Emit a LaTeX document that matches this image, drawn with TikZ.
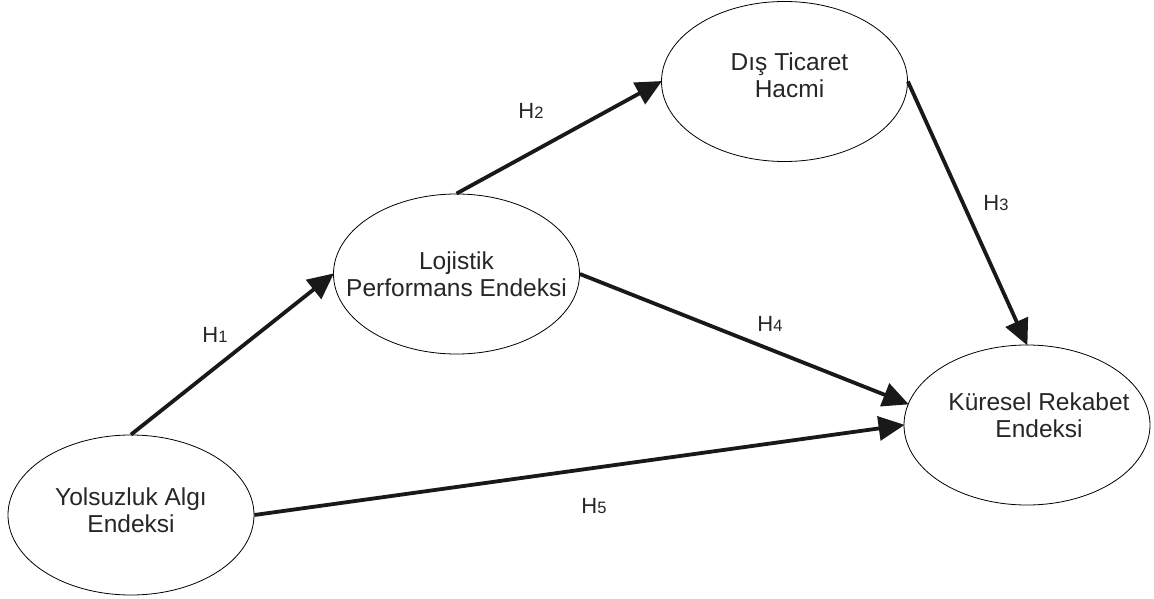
\documentclass[tikz,border=0pt]{standalone}
\usepackage{fontspec}
\setmainfont{Liberation Sans}
\usetikzlibrary{shapes.geometric,arrows.meta}

\begin{document}
\begin{tikzpicture}[x=1pt,y=-1pt,
    latent/.style={ellipse, draw, line width=0.8pt, inner sep=0pt,
        minimum width=246pt, minimum height=160pt},
    caption/.style={align=center, inner sep=0pt,
        font=\fontsize{24.5}{27}\selectfont, text=black!85},
    path/.style={line width=3.8pt, black!90,
        -{Triangle[length=26pt,width=24pt]}, shorten >=-1pt},
    hyp/.style={font=\fontsize{22}{22}\selectfont, text=black!85}]
    \useasboundingbox (0,0) rectangle (1154,599);
    % constructs
    \node[latent, label={[caption, yshift=5pt]center:Yolsuzluk Algı\\Endeksi}] (yae) at (131,515) {};
    \node[latent, label={[caption]center:Lojistik\\Performans Endeksi}] (lpe) at (456.5,274) {};
    \node[latent, label={[caption, xshift=5pt, yshift=6pt]center:Dış Ticaret\\Hacmi}] (dth) at (784.5,81.5) {};
    \node[latent, label={[caption, xshift=12pt, yshift=10pt]center:Küresel Rekabet\\Endeksi}] (kre) at (1027,425) {};
    % hypotheses
    \draw[path] (yae.north) -- (lpe.west);
    \draw[path] (lpe.north) -- (dth.west);
    \draw[path] (dth.east) -- (kre.north);
    \draw[path] (lpe.east) -- (kre.170);
    \draw[path] (yae.east) -- (kre.west);
    \node[hyp] (h1) at (215,335) {H{\fontsize{16.5}{17}\selectfont 1}};
    \node[hyp] (h2) at (531,111) {H{\fontsize{16.5}{17}\selectfont 2}};
    \node[hyp] (h3) at (996,203.5) {H{\fontsize{16.5}{17}\selectfont 3}};
    \node[hyp] (h4) at (770,323.5) {H{\fontsize{16.5}{17}\selectfont 4}};
    \node[hyp] (h5) at (594,506) {H{\fontsize{16.5}{17}\selectfont 5}};
\end{tikzpicture}
\end{document}
